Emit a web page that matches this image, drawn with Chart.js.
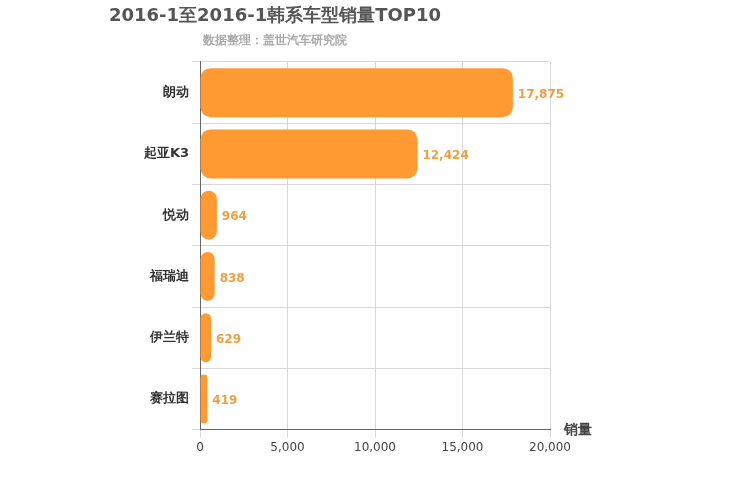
<!DOCTYPE html>
<html>
<head>
<meta charset="utf-8">
<script src="https://cdn.jsdelivr.net/npm/chart.js@4"></script>
<style>
  body { margin: 0; background: #fff; }
  #wrap { width: 750px; height: 500px; }
</style>
</head>
<body>
<div id="wrap"><canvas id="myChart" width="750" height="500"></canvas></div>
<script>
const models = ['朗动', '起亚K3', '悦动', '福瑞迪', '伊兰特', '赛拉图'];
const sales = [17875, 12424, 964, 838, 629, 419];
const xTicks = [0, 5000, 10000, 15000, 20000];

// value labels at the end of each bar, plus the axis name
const barLabels = {
  id: 'barLabels',
  afterDatasetsDraw(chart) {
    const ctx = chart.ctx;
    ctx.save();
    ctx.font = 'bold 12px "DejaVu Sans"';
    ctx.fillStyle = '#f0a040';
    ctx.textBaseline = 'middle';
    chart.getDatasetMeta(0).data.forEach((bar, i) => {
      ctx.fillText(sales[i].toLocaleString('en-US'), bar.x + 5, bar.y + 2);
    });
    ctx.fillStyle = '#444';
    ctx.font = 'bold 14px "DejaVu Sans"';
    ctx.fillText('销量', chart.chartArea.right + 14, chart.chartArea.bottom + 1);
    ctx.restore();
  }
};

const context = document.getElementById('myChart').getContext('2d');
new Chart(context, {
  type: 'bar',
  data: {
    labels: models,
    datasets: [{
      data: sales,
      backgroundColor: '#ff9a33',
      borderRadius: 10,
      borderSkipped: false,
      barPercentage: 0.8,
      categoryPercentage: 1
    }]
  },
  options: {
    indexAxis: 'y',
    responsive: false,
    animation: false,
    layout: { padding: { left: 0, right: 200, top: 0, bottom: 42 } },
    scales: {
      x: {
        min: 0, max: 20000,
        afterBuildTicks: axis => { axis.ticks = xTicks.map(v => ({ value: v })); },
        ticks: { color: '#444', font: { size: 12, family: 'DejaVu Sans' }, callback: v => v.toLocaleString('en-US') },
        grid: { color: '#d8d8d8', drawTicks: true },
        border: { color: '#666' }
      },
      y: {
        afterFit: axis => { axis.width = 200; },
        ticks: { color: '#333', font: { size: 13, weight: 'bold', family: 'DejaVu Sans' } },
        grid: { color: '#d8d8d8', offset: true },
        border: { color: '#666' }
      }
    },
    plugins: {
      legend: { display: false },
      tooltip: { enabled: false },
      title: {
        display: true,
        text: '2016-1至2016-1韩系车型销量TOP10',
        color: '#555',
        font: { size: 18, weight: 'bold', family: 'DejaVu Sans' },
        padding: { top: 6, bottom: 6 }
      },
      subtitle: {
        display: true,
        text: '数据整理：盖世汽车研究院',
        color: '#aaa',
        font: { size: 12, weight: 'bold', family: 'DejaVu Sans' },
        padding: { bottom: 14 }
      }
    }
  },
  plugins: [barLabels]
});
</script>
</body>
</html>
